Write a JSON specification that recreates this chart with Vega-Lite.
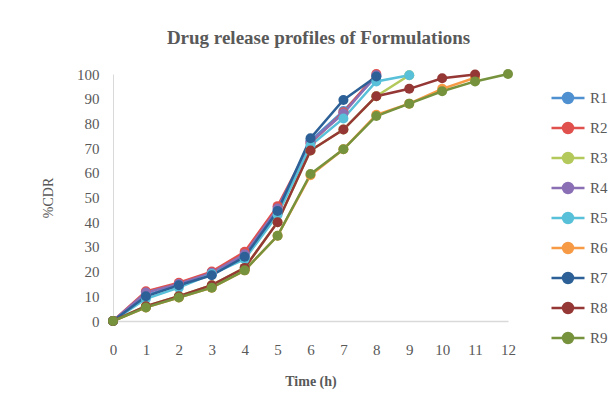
{
  "$schema": "https://vega.github.io/schema/vega-lite/v6.json",
  "width": 395,
  "height": 247,
  "autosize": {"type": "none"},
  "padding": {"left": 113, "top": 74, "right": 103, "bottom": 86},
  "background": "white",
  "title": {
    "text": "Drug release profiles of Formulations",
    "font": "Liberation Serif",
    "fontSize": 19,
    "fontWeight": "bold",
    "color": "#595959",
    "anchor": "middle",
    "dx": 8,
    "offset": 19
  },
  "config": {
    "view": {"stroke": null},
    "font": "Liberation Serif"
  },
  "data": {
    "values": [
      {"f": "R1", "t": 0, "v": 0}, {"f": "R1", "t": 1, "v": 10.5}, {"f": "R1", "t": 2, "v": 14.5}, {"f": "R1", "t": 3, "v": 19}, {"f": "R1", "t": 4, "v": 26}, {"f": "R1", "t": 5, "v": 44.5}, {"f": "R1", "t": 6, "v": 73}, {"f": "R1", "t": 7, "v": 85}, {"f": "R1", "t": 8, "v": 99},
      {"f": "R2", "t": 0, "v": 0}, {"f": "R2", "t": 1, "v": 12}, {"f": "R2", "t": 2, "v": 15.5}, {"f": "R2", "t": 3, "v": 20}, {"f": "R2", "t": 4, "v": 28}, {"f": "R2", "t": 5, "v": 46.5}, {"f": "R2", "t": 6, "v": 72}, {"f": "R2", "t": 7, "v": 84.5}, {"f": "R2", "t": 8, "v": 100},
      {"f": "R3", "t": 0, "v": 0}, {"f": "R3", "t": 1, "v": 6}, {"f": "R3", "t": 2, "v": 10}, {"f": "R3", "t": 3, "v": 14.5}, {"f": "R3", "t": 4, "v": 21.5}, {"f": "R3", "t": 5, "v": 40}, {"f": "R3", "t": 6, "v": 69}, {"f": "R3", "t": 7, "v": 77.5}, {"f": "R3", "t": 8, "v": 91}, {"f": "R3", "t": 9, "v": 99.5},
      {"f": "R4", "t": 0, "v": 0}, {"f": "R4", "t": 1, "v": 11.5}, {"f": "R4", "t": 2, "v": 15}, {"f": "R4", "t": 3, "v": 19.5}, {"f": "R4", "t": 4, "v": 27}, {"f": "R4", "t": 5, "v": 45.5}, {"f": "R4", "t": 6, "v": 72.5}, {"f": "R4", "t": 7, "v": 84}, {"f": "R4", "t": 8, "v": 99.5},
      {"f": "R5", "t": 0, "v": 0}, {"f": "R5", "t": 1, "v": 9}, {"f": "R5", "t": 2, "v": 13.5}, {"f": "R5", "t": 3, "v": 19}, {"f": "R5", "t": 4, "v": 25}, {"f": "R5", "t": 5, "v": 43}, {"f": "R5", "t": 6, "v": 71}, {"f": "R5", "t": 7, "v": 82}, {"f": "R5", "t": 8, "v": 97}, {"f": "R5", "t": 9, "v": 99.5},
      {"f": "R6", "t": 0, "v": 0}, {"f": "R6", "t": 1, "v": 5.5}, {"f": "R6", "t": 2, "v": 9.5}, {"f": "R6", "t": 3, "v": 13.5}, {"f": "R6", "t": 4, "v": 20.5}, {"f": "R6", "t": 5, "v": 34.5}, {"f": "R6", "t": 6, "v": 59}, {"f": "R6", "t": 7, "v": 69.5}, {"f": "R6", "t": 8, "v": 83.5}, {"f": "R6", "t": 9, "v": 88}, {"f": "R6", "t": 10, "v": 94}, {"f": "R6", "t": 11, "v": 98.5},
      {"f": "R7", "t": 0, "v": 0}, {"f": "R7", "t": 1, "v": 10}, {"f": "R7", "t": 2, "v": 14.5}, {"f": "R7", "t": 3, "v": 18.5}, {"f": "R7", "t": 4, "v": 26}, {"f": "R7", "t": 5, "v": 44.5}, {"f": "R7", "t": 6, "v": 74}, {"f": "R7", "t": 7, "v": 89.5}, {"f": "R7", "t": 8, "v": 99},
      {"f": "R8", "t": 0, "v": 0}, {"f": "R8", "t": 1, "v": 6}, {"f": "R8", "t": 2, "v": 10}, {"f": "R8", "t": 3, "v": 14.5}, {"f": "R8", "t": 4, "v": 21.5}, {"f": "R8", "t": 5, "v": 40}, {"f": "R8", "t": 6, "v": 69}, {"f": "R8", "t": 7, "v": 77.5}, {"f": "R8", "t": 8, "v": 91}, {"f": "R8", "t": 9, "v": 94}, {"f": "R8", "t": 10, "v": 98.3}, {"f": "R8", "t": 11, "v": 99.8},
      {"f": "R9", "t": 0, "v": 0}, {"f": "R9", "t": 1, "v": 5.5}, {"f": "R9", "t": 2, "v": 9.5}, {"f": "R9", "t": 3, "v": 13.5}, {"f": "R9", "t": 4, "v": 20.5}, {"f": "R9", "t": 5, "v": 34.5}, {"f": "R9", "t": 6, "v": 59.5}, {"f": "R9", "t": 7, "v": 69.5}, {"f": "R9", "t": 8, "v": 83}, {"f": "R9", "t": 9, "v": 88}, {"f": "R9", "t": 10, "v": 93}, {"f": "R9", "t": 11, "v": 97}, {"f": "R9", "t": 12, "v": 100}
    ]
  },
  "mark": {
    "type": "line",
    "strokeWidth": 2.5,
    "point": {"filled": true, "size": 100, "opacity": 1}
  },
  "encoding": {
    "x": {
      "field": "t",
      "type": "quantitative",
      "scale": {"domain": [0, 12], "nice": false},
      "axis": {
        "values": [0, 1, 2, 3, 4, 5, 6, 7, 8, 9, 10, 11, 12],
        "title": "Time (h)",
        "grid": false,
        "ticks": false,
        "domainColor": "#D9D9D9",
        "domainWidth": 1.5,
        "labelFont": "Liberation Serif",
        "labelFontSize": 15,
        "labelColor": "#595959",
        "labelPadding": 21,
        "labelFlush": false,
        "titleFont": "Liberation Serif",
        "titleFontSize": 14,
        "titleFontWeight": "bold",
        "titleColor": "#595959",
        "titlePadding": 17
      }
    },
    "y": {
      "field": "v",
      "type": "quantitative",
      "scale": {"domain": [0, 100], "nice": false},
      "axis": {
        "values": [0, 10, 20, 30, 40, 50, 60, 70, 80, 90, 100],
        "title": "%CDR",
        "grid": false,
        "ticks": false,
        "domainColor": "#D9D9D9",
        "domainWidth": 1,
        "labelFont": "Liberation Serif",
        "labelFontSize": 15,
        "labelColor": "#595959",
        "labelPadding": 14,
        "labelFlush": false,
        "titleFont": "Liberation Serif",
        "titleFontSize": 14,
        "titleFontWeight": "normal",
        "titleColor": "#595959",
        "titlePadding": 21
      }
    },
    "color": {
      "field": "f",
      "type": "nominal",
      "scale": {
        "domain": ["R1", "R2", "R3", "R4", "R5", "R6", "R7", "R8", "R9"],
        "range": ["#4F90D0", "#E0504D", "#B4C95B", "#8B6FB5", "#58C0D8", "#F79A45", "#2C6096", "#953735", "#76923C"]
      },
      "legend": {
        "title": null,
        "orient": "none",
        "legendX": 437,
        "legendY": 6,
        "symbolType": "M-1,0H1M-0.3,0A0.3,0.3,0,1,1,0.3,0A0.3,0.3,0,1,1,-0.3,0Z",
        "symbolSize": 1089,
        "symbolStrokeWidth": 2.5,
        "labelFont": "Liberation Serif",
        "labelFontSize": 15,
        "labelColor": "#595959",
        "labelOffset": 4,
        "rowPadding": 2,
        "encode": {
          "symbols": {
            "update": {
              "fill": {"scale": "color", "field": "value"},
              "stroke": {"scale": "color", "field": "value"},
              "opacity": {"value": 1}
            }
          }
        }
      }
    }
  }
}
